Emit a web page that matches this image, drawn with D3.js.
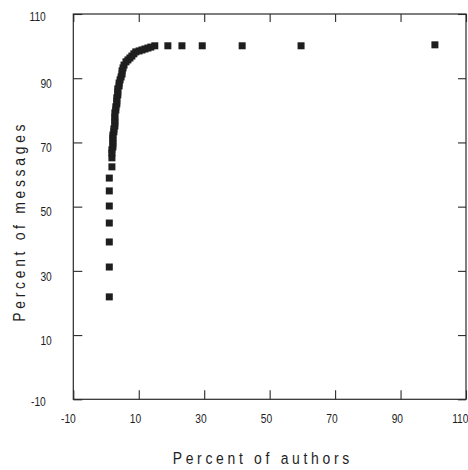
<!DOCTYPE html>
<html>
<head>
<meta charset="utf-8">
<script src="https://cdn.jsdelivr.net/npm/d3@7"></script>
<style>
  html, body { margin: 0; padding: 0; background: #fff; }
  svg { display: block; }
  .lbl { font-family: "Liberation Sans", Arial, sans-serif; fill: #1e1e1e; }
</style>
</head>
<body>
<svg id="chart" width="468" height="470"></svg>
<script>
// ---- data ----
const authorsPct = [1.0, 1.0, 1.0, 1.0, 1.0, 1.0, 1.0, 1.8, 1.8,
  1.8, 1.8, 2.1, 2.1, 2.1, 2.1, 2.1, 2.4, 2.4, 2.7, 2.7, 2.7, 2.7, 2.7,
  3.0, 3.0, 3.3, 3.3, 3.3, 3.6, 3.6, 3.6, 4.0, 4.0, 4.3, 4.6, 4.9, 4.9,
  5.2, 5.5, 6.1, 6.7, 7.3, 7.9, 8.5, 9.1, 10.1, 11.0, 11.9, 12.8, 13.7,
  14.9, 18.9, 23.2, 29.4, 41.6, 59.6, 100.5];
const messagesPct = [21.9, 31.2, 39.0, 44.9, 50.2, 54.9, 58.9, 62.4, 65.2,
  66.7, 67.7, 68.6, 69.6, 70.5, 71.4, 72.3, 73.3, 74.2, 75.1, 76.1, 77.0, 77.9, 79.2,
  80.1, 81.1, 82.0, 82.9, 83.9, 84.8, 85.7, 86.7, 87.6, 88.5, 89.5, 90.4, 91.3, 92.3,
  93.2, 94.1, 95.1, 95.7, 96.3, 96.9, 97.6, 98.2, 98.5, 98.8, 99.1, 99.4, 99.7,
  100.1, 100.1, 100.1, 100.1, 100.1, 100.1, 100.4];
const xTickLabels = [-10, 10, 30, 50, 70, 90, 110];
const yTickLabels = [-10, 10, 30, 50, 70, 90, 110];
const xTitle = "Percent of authors";
const yTitle = "Percent of messages";

// ---- layout ----
const svg = d3.select("#chart");
const L = 73.3, R = 466, T = 14, B = 399.3;
const x = d3.scaleLinear().domain([-10, 110]).range([L, R]);
const y = d3.scaleLinear().domain([-10, 110]).range([B, T]);
const ink = "#1e1e1e";
const narrow = 0.82; // horizontal squeeze to mimic the condensed typeface

// frame
svg.append("rect")
  .attr("x", L).attr("y", T).attr("width", R - L).attr("height", B - T)
  .attr("fill", "none").attr("stroke", "#2a2a2a").attr("stroke-width", 1.2);

// bottom axis (inward ticks + labels)
const gx = svg.append("g").attr("transform", `translate(0,${B})`)
  .call(d3.axisBottom(x).tickValues(xTickLabels).tickSize(-9).tickFormat(d => String(d)));
gx.select(".domain").remove();
gx.selectAll("line").attr("stroke", "#2a2a2a").attr("stroke-width", 1.1);
gx.selectAll("text").attr("class", "lbl").attr("font-size", 12.5)
  .attr("text-anchor", "end").attr("x", 0).attr("y", 0).attr("dy", null)
  .attr("transform", `translate(2,23.4) scale(${narrow},1)`).attr("fill", ink);

// top inward ticks
const gxt = svg.append("g").attr("transform", `translate(0,${T})`)
  .call(d3.axisTop(x).tickValues(xTickLabels).tickSize(-8).tickFormat(""));
gxt.select(".domain").remove();
gxt.selectAll("line").attr("stroke", "#2a2a2a").attr("stroke-width", 1.1);

// left axis
const gy = svg.append("g").attr("transform", `translate(${L},0)`)
  .call(d3.axisLeft(y).tickValues(yTickLabels).tickSize(-9).tickFormat(d => String(d)));
gy.select(".domain").remove();
gy.selectAll("line").attr("stroke", "#2a2a2a").attr("stroke-width", 1.1);
gy.selectAll("text").attr("class", "lbl").attr("font-size", 12.5)
  .attr("text-anchor", "end").attr("dy", null).attr("x", 0).attr("y", 0)
  .attr("transform", d => `translate(${String(d).length > 2 ? -27.5 : -21.5},${d === -10 || d === 110 ? 6.5 : 9.3}) scale(${narrow},1)`)
  .attr("fill", ink);

// right inward ticks
const gyr = svg.append("g").attr("transform", `translate(${R},0)`)
  .call(d3.axisRight(y).tickValues(yTickLabels).tickSize(-8).tickFormat(""));
gyr.select(".domain").remove();
gyr.selectAll("line").attr("stroke", "#2a2a2a").attr("stroke-width", 1.1);

// points (filled squares)
const pts = authorsPct.map((a, i) => ({ a, m: messagesPct[i] }));
const s = 7;
svg.append("g").selectAll("rect").data(pts).join("rect")
  .attr("x", d => x(d.a) - s / 2).attr("y", d => y(d.m) - s / 2)
  .attr("width", s).attr("height", s).attr("fill", ink);

// axis titles
svg.append("text").attr("class", "lbl").attr("font-size", 17)
  .attr("letter-spacing", 4.5).attr("fill", ink)
  .attr("transform", `translate(172.7,464) scale(${narrow},1)`)
  .text(xTitle);
svg.append("text").attr("class", "lbl").attr("font-size", 17)
  .attr("letter-spacing", 4.5).attr("fill", ink)
  .attr("transform", `translate(25,321.7) rotate(-90) scale(${narrow},1)`)
  .text(yTitle);
</script>
</body>
</html>
